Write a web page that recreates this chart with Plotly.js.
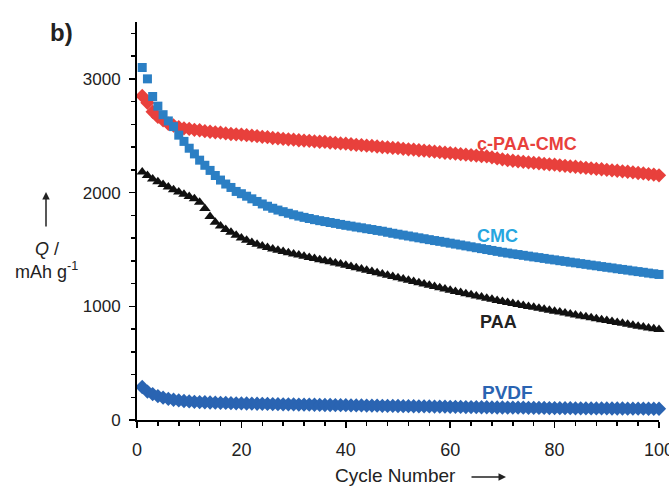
<!DOCTYPE html>
<html>
<head>
<meta charset="utf-8">
<script src="https://cdn.plot.ly/plotly-3.0.1.min.js"></script>
<style>
html,body{margin:0;padding:0;background:#fff;}
#chart{width:669px;height:486px;}
</style>
</head>
<body>
<div id="chart"></div>
<script>
// Cycle numbers 1..100
const cycles = [1,2,3,4,5,6,7,8,9,10,11,12,13,14,15,16,17,18,19,20,21,22,23,24,25,26,27,28,29,30,31,32,33,34,35,36,37,38,39,40,41,42,43,44,45,46,47,48,49,50,51,52,53,54,55,56,57,58,59,60,61,62,63,64,65,66,67,68,69,70,71,72,73,74,75,76,77,78,79,80,81,82,83,84,85,86,87,88,89,90,91,92,93,94,95,96,97,98,99,100];

// c-PAA-CMC (mAh/g)
const cPAACMC = [2850,2790,2710,2665,2635,2605,2590,2575,2565,2560,
2552,2548,2540,2535,2530,2527,2520,2515,2512,2510,
2505,2500,2497,2490,2487,2480,2477,2472,2468,2465,
2460,2457,2455,2450,2447,2445,2440,2437,2432,2430,
2425,2420,2418,2412,2410,2405,2400,2398,2393,2390,
2385,2380,2378,2372,2368,2365,2360,2355,2350,2347,
2342,2338,2333,2330,2325,2320,2318,2310,2300,2292,
2285,2280,2275,2270,2265,2262,2258,2252,2248,2245,
2240,2235,2230,2227,2222,2218,2213,2208,2205,2200,
2196,2192,2187,2183,2178,2172,2168,2163,2158,2152];

// CMC
const CMC = [3100,3000,2845,2760,2685,2630,2580,2505,2450,2390,
2340,2285,2240,2195,2150,2110,2075,2045,2010,1990,
1968,1945,1922,1900,1880,1862,1846,1832,1818,1805,
1793,1782,1772,1762,1753,1745,1737,1729,1720,1712,
1705,1697,1690,1682,1675,1667,1660,1651,1642,1634,
1626,1618,1610,1602,1594,1586,1578,1571,1563,1555,
1547,1539,1531,1523,1515,1507,1499,1491,1483,1475,
1468,1461,1455,1448,1441,1434,1428,1421,1414,1408,
1401,1395,1388,1382,1375,1369,1362,1356,1349,1343,
1337,1330,1324,1318,1311,1305,1299,1292,1286,1280];

// PAA
const PAA = [2180,2150,2120,2095,2070,2050,2025,2005,1985,1965,
1945,1915,1860,1790,1740,1705,1675,1650,1625,1600,
1580,1562,1546,1530,1516,1503,1492,1482,1471,1460,
1450,1440,1430,1420,1410,1400,1391,1381,1371,1360,
1350,1338,1328,1317,1306,1295,1284,1273,1262,1250,
1240,1228,1218,1206,1196,1185,1174,1163,1152,1142,
1131,1122,1111,1101,1091,1082,1071,1062,1051,1042,
1033,1025,1016,1008,999,991,982,974,965,957,
949,940,932,924,915,907,899,891,882,874,
866,858,850,841,833,825,817,810,803,795];

// PVDF
const PVDF = [290,250,228,210,196,186,178,172,167,163,
160,158,156,154,152,151,150,148,147,146,
145,144,143,142,141,140,139,138,138,137,
136,135,135,134,133,132,132,131,130,130,
129,128,128,127,126,126,125,124,124,123,
122,122,121,120,120,119,118,118,117,116,
116,115,114,114,113,112,112,111,110,110,
109,109,108,108,107,107,106,106,105,105,
104,104,104,103,103,103,102,102,102,102,
101,101,101,100,100,100,100,99,99,99];

const seriesNames = ['c-PAA-CMC','CMC','PAA','PVDF'];
const xTickVals = [0,20,40,60,80,100];
const yTickVals = [0,1000,2000,3000];

const FONT = 'Liberation Sans, Arial, Helvetica, sans-serif';
const RED = '#e8403c', BLUE = '#2b7fc4', BLACK = '#111111', PVDFC = '#2a64b2';

const traces = [
  {x: cycles, y: cPAACMC, name: seriesNames[0], mode: 'markers', cliponaxis: false,
   marker: {symbol: 'diamond', size: 11, color: RED}},
  {x: cycles, y: PAA, name: seriesNames[2], mode: 'markers', cliponaxis: false,
   marker: {symbol: 'triangle-up', size: 10, color: BLACK}},
  {x: cycles, y: PVDF, name: seriesNames[3], mode: 'markers', cliponaxis: false,
   marker: {symbol: 'diamond', size: 11, color: PVDFC}},
  {x: cycles, y: CMC, name: seriesNames[1], mode: 'markers', cliponaxis: false,
   marker: {symbol: 'square', size: 9, color: BLUE}}
];

// paper coords helpers (plot area: x 137..659, y 22..420)
function px(p){ return (p - 137) / 522; }
function py(p){ return (420 - p) / 398; }

const annotations = [
  {x: 74.7, y: 2427, xref: 'x', yref: 'y', text: '<b>c-PAA-CMC</b>', showarrow: false,
   xanchor: 'center', yanchor: 'middle', font: {family: FONT, size: 18, color: RED}},
  {x: 69, y: 1617, xref: 'x', yref: 'y', text: '<b>CMC</b>', showarrow: false,
   xanchor: 'center', yanchor: 'middle', font: {family: FONT, size: 18, color: '#27a6df'}},
  {x: 69.2, y: 859, xref: 'x', yref: 'y', text: '<b>PAA</b>', showarrow: false,
   xanchor: 'center', yanchor: 'middle', font: {family: FONT, size: 18, color: '#222'}},
  {x: 70.9, y: 245, xref: 'x', yref: 'y', text: '<b>PVDF</b>', showarrow: false,
   xanchor: 'center', yanchor: 'middle', font: {family: FONT, size: 19, color: PVDFC}},
  {x: px(61), y: py(33), xref: 'paper', yref: 'paper', text: '<b>b)</b>', showarrow: false,
   xanchor: 'center', yanchor: 'middle', font: {family: FONT, size: 24, color: '#222'}},
  {x: px(395), y: py(475), xref: 'paper', yref: 'paper', text: 'Cycle Number', showarrow: false,
   xanchor: 'center', yanchor: 'middle', font: {family: FONT, size: 19, color: '#222'}},
  {x: px(506), y: py(477), xref: 'paper', yref: 'paper', text: '', showarrow: true,
   ax: -36, ay: 0, arrowhead: 2, arrowsize: 1, arrowwidth: 1.5, arrowcolor: '#222'},
  {x: px(46), y: py(192), xref: 'paper', yref: 'paper', text: '', showarrow: true,
   ax: 0, ay: 36, arrowhead: 2, arrowsize: 1, arrowwidth: 1.5, arrowcolor: '#222'},
  {x: px(47), y: py(249), xref: 'paper', yref: 'paper', text: '<i>Q</i> /', showarrow: false,
   xanchor: 'center', yanchor: 'middle', font: {family: FONT, size: 18, color: '#222'}},
  {x: px(46), y: py(270), xref: 'paper', yref: 'paper', text: 'mAh g<sup>-1</sup>', showarrow: false,
   xanchor: 'center', yanchor: 'middle', font: {family: FONT, size: 18, color: '#222'}}
];

const layout = {
  width: 669, height: 486,
  margin: {l: 137, r: 10, t: 22, b: 66},
  paper_bgcolor: '#fff', plot_bgcolor: '#fff',
  showlegend: false,
  font: {family: FONT, size: 17, color: '#222'},
  xaxis: {
    range: [0, 100], tickvals: xTickVals, ticktext: xTickVals.map(String),
    showgrid: false, zeroline: false, showline: true, linecolor: '#000', linewidth: 2,
    ticks: 'outside', ticklen: 6, tickwidth: 1.5, tickcolor: '#000',
    ticklabelstandoff: 6, ticklabeloverflow: 'allow',
    minor: {dtick: 4, ticks: 'outside', ticklen: 4, tickwidth: 1.5, tickcolor: '#000', showgrid: false},
    tickfont: {family: FONT, size: 18, color: '#222'}, fixedrange: true
  },
  yaxis: {
    range: [0, 3500], tickvals: yTickVals, ticktext: yTickVals.map(String),
    showgrid: false, zeroline: false, showline: true, linecolor: '#000', linewidth: 2,
    ticks: 'outside', ticklen: 6, tickwidth: 1.5, tickcolor: '#000',
    ticklabelstandoff: 5,
    minor: {dtick: 200, ticks: 'outside', ticklen: 4, tickwidth: 1.5, tickcolor: '#000', showgrid: false},
    tickfont: {family: FONT, size: 17, color: '#222'}, fixedrange: true
  },
  annotations: annotations
};

Plotly.newPlot('chart', traces, layout, {staticPlot: true, displayModeBar: false});
</script>
</body>
</html>
